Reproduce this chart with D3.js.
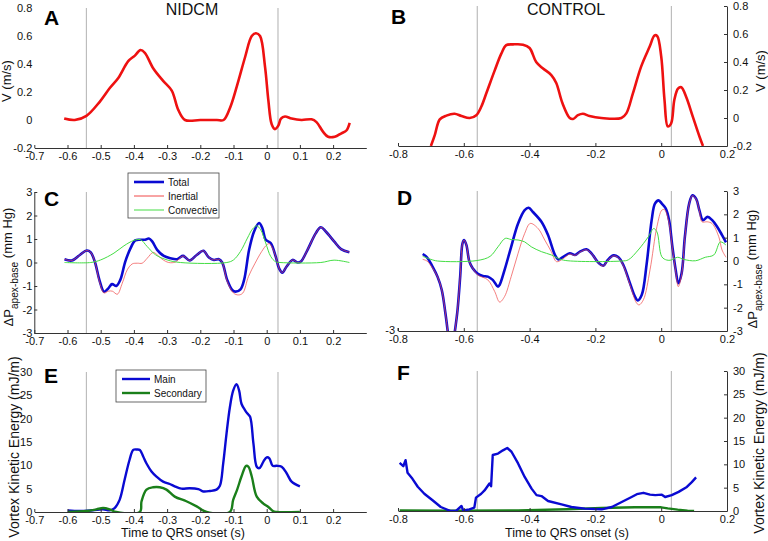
<!DOCTYPE html>
<html>
<head>
<meta charset="utf-8">
<script src="https://cdn.jsdelivr.net/npm/d3@7"></script>
<style>
  body { margin: 0; background: #fff; }
  svg { display: block; font-family: "Liberation Sans", Arial, sans-serif; }
</style>
</head>
<body>
<svg id="fig" width="768" height="541"></svg>
<script>
// ---- data ----
// A: NIDCM velocity
const aTime = [-0.61,-0.578,-0.543,-0.503,-0.472,-0.447,-0.417,-0.397,-0.38,-0.367,-0.342,-0.312,-0.286,-0.266,-0.246,-0.2,-0.15,-0.13,-0.11,-0.09,-0.065,-0.045,-0.032,-0.02,-0.005,0.005,0.015,0.025,0.035,0.043,0.055,0.075,0.105,0.135,0.15,0.17,0.185,0.205,0.225,0.24,0.25];
const aVel = [0.01,0.0,0.03,0.13,0.23,0.30,0.42,0.46,0.50,0.48,0.37,0.28,0.21,0.07,0.0,0.0,0.0,0.0,0.09,0.24,0.45,0.60,0.62,0.60,0.38,0.14,-0.03,-0.065,-0.04,0.01,0.025,0.01,0.0,0.005,-0.015,-0.085,-0.12,-0.12,-0.095,-0.075,-0.02];

// B: CONTROL velocity
const bTime = [-0.7,-0.688,-0.673,-0.653,-0.628,-0.607,-0.582,-0.562,-0.547,-0.531,-0.506,-0.486,-0.471,-0.45,-0.42,-0.4,-0.38,-0.36,-0.334,-0.319,-0.3,-0.278,-0.268,-0.253,-0.238,-0.218,-0.182,-0.121,-0.106,-0.086,-0.061,-0.035,-0.02,-0.012,0.0,0.01,0.02,0.03,0.04,0.051,0.061,0.076,0.096,0.116,0.127];
const bVel = [-0.2,-0.12,-0.01,0.017,0.03,0.014,0.0,0.02,0.08,0.18,0.34,0.46,0.52,0.526,0.524,0.50,0.40,0.355,0.307,0.25,0.105,0.0,-0.007,0.02,0.03,0.014,0.0,0.0,0.033,0.176,0.367,0.51,0.59,0.585,0.44,0.13,-0.06,-0.04,0.13,0.21,0.22,0.15,0.01,-0.13,-0.2];

// C: NIDCM pressure difference
const cTotalTime = [-0.609,-0.587,-0.562,-0.542,-0.53,-0.517,-0.504,-0.49,-0.477,-0.466,-0.453,-0.441,-0.426,-0.41,-0.396,-0.38,-0.366,-0.355,-0.345,-0.33,-0.31,-0.29,-0.27,-0.252,-0.232,-0.21,-0.191,-0.174,-0.159,-0.144,-0.134,-0.119,-0.104,-0.094,-0.079,-0.068,-0.053,-0.038,-0.023,-0.013,-0.003,0.012,0.027,0.037,0.047,0.06,0.078,0.093,0.103,0.123,0.148,0.163,0.178,0.203,0.224,0.249];
const cTotal = [0.14,0.085,0.33,0.51,0.43,0.0,-0.74,-1.24,-1.1,-0.92,-1.0,-0.74,0.04,0.61,0.94,0.97,0.97,1.02,0.9,0.54,0.28,0.18,0.14,0.28,0.085,0.33,0.5,0.21,0.11,0.14,0.0,-0.74,-1.17,-1.24,-1.14,-0.74,0.54,1.32,1.68,1.46,0.97,0.83,0.26,-0.24,-0.43,-0.17,0.11,0.0,0.04,0.54,1.25,1.5,1.32,0.9,0.57,0.44];
const cInertTime = [-0.609,-0.587,-0.562,-0.542,-0.53,-0.517,-0.504,-0.49,-0.477,-0.465,-0.45,-0.435,-0.42,-0.405,-0.39,-0.375,-0.36,-0.342,-0.33,-0.315,-0.295,-0.275,-0.252,-0.232,-0.21,-0.191,-0.174,-0.159,-0.144,-0.134,-0.119,-0.1,-0.085,-0.072,-0.055,-0.035,-0.015,0.0,0.008,0.02,0.03,0.037,0.047,0.06,0.078,0.093,0.103,0.123,0.148,0.163,0.178,0.203,0.224,0.249];
const cInert = [0.14,0.085,0.33,0.51,0.43,0.0,-0.8,-1.3,-1.22,-1.22,-1.35,-0.88,-0.31,-0.06,-0.03,-0.03,0.18,0.43,0.33,0.14,0.0,0.02,0.28,0.085,0.33,0.5,0.21,0.11,0.14,0.0,-0.8,-1.3,-1.38,-1.3,-0.6,-0.03,0.47,0.75,0.8,0.54,0.11,-0.24,-0.43,-0.17,0.11,0.0,0.04,0.54,1.25,1.5,1.32,0.9,0.57,0.44];
const cConvTime = [-0.609,-0.53,-0.5,-0.46,-0.43,-0.4,-0.38,-0.36,-0.335,-0.3,-0.26,-0.12,-0.1,-0.079,-0.058,-0.043,-0.03,-0.018,-0.003,0.012,0.027,0.04,0.163,0.203,0.249];
const cConv = [0,0,0.11,0.4,0.71,0.94,0.97,0.68,0.33,0.11,0,0,0.11,0.47,1.04,1.42,1.56,1.39,0.83,0.26,0.03,0,0,0.1,0];

// D: CONTROL pressure difference
const dTotalTime = [-0.725,-0.712,-0.695,-0.68,-0.667,-0.656,-0.649,-0.644,-0.633,-0.627,-0.619,-0.611,-0.604,-0.599,-0.592,-0.583,-0.573,-0.557,-0.542,-0.527,-0.512,-0.496,-0.491,-0.476,-0.456,-0.435,-0.415,-0.403,-0.39,-0.364,-0.344,-0.323,-0.313,-0.298,-0.278,-0.262,-0.247,-0.227,-0.212,-0.191,-0.176,-0.163,-0.145,-0.13,-0.115,-0.095,-0.08,-0.071,-0.059,-0.044,-0.029,-0.019,-0.008,0.002,0.014,0.024,0.034,0.044,0.052,0.062,0.072,0.085,0.095,0.106,0.116,0.127,0.141,0.155,0.17,0.185,0.197];
const dTotal = [0.3,0.16,-0.24,-0.67,-1.24,-2.23,-3.0,-3.6,-3.6,-3.0,-2.09,-0.67,0.75,0.9,0.68,-0.03,-0.31,-0.55,-0.64,-0.67,-0.81,-1.1,-1.02,-0.38,0.61,1.61,2.18,2.28,2.1,1.68,1.11,0.26,0.07,0.18,0.33,0.26,0.4,0.5,0.33,-0.07,-0.2,0.04,0.24,0.16,-0.17,-0.95,-1.52,-1.69,-1.45,-0.1,1.75,2.46,2.6,2.46,2.25,1.75,0.61,-0.38,-0.95,-0.53,1.04,2.46,2.82,2.67,2.18,1.75,1.89,1.75,1.47,1.11,0.8];
const dInertTime = [-0.725,-0.712,-0.695,-0.68,-0.667,-0.656,-0.649,-0.644,-0.633,-0.627,-0.619,-0.611,-0.604,-0.599,-0.592,-0.583,-0.573,-0.557,-0.527,-0.506,-0.491,-0.476,-0.456,-0.435,-0.415,-0.398,-0.374,-0.354,-0.334,-0.318,-0.298,-0.278,-0.262,-0.247,-0.227,-0.212,-0.191,-0.176,-0.163,-0.145,-0.13,-0.115,-0.095,-0.075,-0.067,-0.054,-0.034,-0.013,0.002,0.01,0.022,0.034,0.044,0.052,0.062,0.072,0.085,0.095,0.106,0.116,0.124,0.14,0.155,0.175,0.185,0.197];
const dInert = [0.07,0.0,-0.3,-0.67,-1.24,-2.23,-3.0,-3.6,-3.6,-3.0,-2.09,-0.67,0.75,0.9,0.68,-0.03,-0.31,-0.6,-0.81,-1.31,-1.76,-1.52,-0.67,0.33,1.18,1.61,1.39,0.9,0.4,-0.03,0.1,0.3,0.24,0.38,0.48,0.32,-0.08,-0.22,0.02,0.22,0.14,-0.2,-1.02,-1.8,-1.88,-1.66,-0.38,1.47,2.18,2.2,1.75,0.55,-0.45,-1.1,-0.6,1.0,2.44,2.8,2.65,2.15,1.68,1.68,1.6,1.04,0.47,0.16];
const dConvTime = [-0.725,-0.7,-0.68,-0.56,-0.52,-0.496,-0.474,-0.456,-0.435,-0.415,-0.395,-0.364,-0.334,-0.313,-0.29,-0.12,-0.1,-0.07,-0.039,-0.023,-0.013,0.002,0.017,0.03,0.05,0.068,0.104,0.134,0.16,0.18,0.197];
const dConv = [0.2,0.07,0,0.02,0.2,0.61,0.97,0.92,0.9,0.82,0.61,0.4,0.26,0.11,0.02,0,0.05,0.47,1.04,1.39,1.25,0.18,0.04,0.04,0.16,0.07,0.01,0.16,0.26,0.82,0.68];

// E: NIDCM vortex kinetic energy
const eMainTime = [-0.599,-0.564,-0.524,-0.493,-0.473,-0.458,-0.443,-0.428,-0.413,-0.402,-0.392,-0.382,-0.372,-0.362,-0.347,-0.332,-0.312,-0.292,-0.277,-0.257,-0.232,-0.206,-0.191,-0.171,-0.151,-0.141,-0.131,-0.121,-0.111,-0.101,-0.091,-0.083,-0.076,-0.065,-0.058,-0.05,-0.04,-0.03,-0.022,-0.01,0.0,0.008,0.018,0.03,0.045,0.06,0.075,0.1];
const eMain = [0.36,0.2,0.36,0.57,0.36,0.85,2.6,6.9,11.2,13.3,13.4,13.3,11.9,10.4,8.7,7.6,6.5,6.0,5.5,5.0,5.1,4.9,4.4,4.5,4.8,5.6,10.4,16.8,22.4,26.0,27.4,26.0,23.2,21.8,21.1,20.4,14.7,9.7,9.4,10.8,11.7,11.5,9.9,9.9,9.7,8.3,6.5,5.5];
const eSecTime = [-0.599,-0.543,-0.513,-0.493,-0.473,-0.453,-0.382,-0.377,-0.362,-0.342,-0.322,-0.302,-0.277,-0.242,-0.211,-0.181,-0.111,-0.101,-0.089,-0.076,-0.062,-0.055,-0.045,-0.03,-0.01,0.005,0.02,0.03,0.1];
const eSec = [0,0.2,0.57,0.85,0.57,0,0,2.3,4.8,5.3,5.3,4.8,3.3,2.3,1.2,0,0,2.6,4.8,7.6,9.9,9.7,7.6,3.3,1.8,1.07,0.14,0,0];

// F: CONTROL vortex kinetic energy
const fMainTime = [-0.795,-0.784,-0.777,-0.771,-0.756,-0.74,-0.72,-0.695,-0.67,-0.64,-0.624,-0.607,-0.602,-0.583,-0.568,-0.563,-0.547,-0.537,-0.522,-0.517,-0.512,-0.496,-0.481,-0.468,-0.455,-0.435,-0.415,-0.394,-0.379,-0.364,-0.344,-0.303,-0.273,-0.232,-0.181,-0.15,-0.12,-0.09,-0.074,-0.054,-0.034,-0.018,0.002,0.012,0.032,0.053,0.078,0.093,0.106];
const fMain = [10.3,9.6,10.9,8.2,6.9,5.2,3.7,2.3,0.86,0,0,1.07,0.14,0.36,0.72,2.86,3.7,4.4,5.9,5.3,12.0,12.3,13.0,13.5,12.7,10.2,7.3,4.8,3.4,3.2,2.15,1.43,0.86,0.5,0.36,0.86,1.93,3.0,3.6,3.9,3.5,3.4,3.5,3.0,3.4,4.1,5.15,6.2,7.2];
const fSecTime = [-0.795,-0.64,-0.435,-0.285,-0.181,-0.08,0.0,0.02,0.05,0.08,0.1];
const fSec = [0.1,0.05,0.14,0.36,0.64,0.79,0.79,0.57,0.29,0.07,0];

// event markers (vertical gray lines)
const nidcmMarks = [-0.543, 0.034];
const controlMarks = [-0.559, 0.031];

// ticks
const xTicksLeft = [-0.7,-0.6,-0.5,-0.4,-0.3,-0.2,-0.1,0,0.1,0.2];
const xTicksRight = [-0.8,-0.6,-0.4,-0.2,0,0.2];
const vTicks = [-0.2,0,0.2,0.4,0.6,0.8];
const pTicks = [-3,-2,-1,0,1,2,3];
const eTicks = [0,5,10,15,20,25,30];

// ---- drawing ----
const svg = d3.select("#fig");
const fmt = (d) => (d === 0 ? "0" : (Math.abs(d) < 1 && d % 1 !== 0 ? d.toFixed(1) : String(d)));

const RED = "#ee1111";
const BLUE = "#0a0ad2";
const THIN_RED = "#f04848";
const THIN_GREEN = "#44dd44";
const DARK_GREEN = "#1a7f1a";
const GRAY = "#bdbdbd";

let clipCount = 0;

function panel(cfg) {
  const g = svg.append("g");
  const x = d3.scaleLinear().domain(cfg.xDomain).range(cfg.xRange);
  const y = d3.scaleLinear().domain(cfg.yDomain).range(cfg.yRange);
  const id = "clip" + clipCount++;

  g.append("clipPath").attr("id", id)
    .append("rect")
    .attr("x", cfg.xRange[0]).attr("y", cfg.yRange[1])
    .attr("width", cfg.xRange[1] - cfg.xRange[0])
    .attr("height", cfg.yRange[0] - cfg.yRange[1]);

  g.selectAll("line.mark").data(cfg.marks).enter().append("line")
    .attr("class", "mark")
    .attr("x1", (d) => x(d)).attr("x2", (d) => x(d))
    .attr("y1", cfg.yRange[1]).attr("y2", cfg.yRange[0])
    .attr("stroke", GRAY).attr("stroke-width", 1.2);

  const plot = g.append("g").attr("clip-path", `url(#${id})`);
  cfg.series.forEach((s) => {
    const pts = s.t.map((t, i) => [t, s.v[i]]);
    const line = d3.line()
      .x((d) => x(d[0])).y((d) => y(d[1]))
      .curve(s.linear ? d3.curveLinear : d3.curveCatmullRom.alpha(0.5));
    plot.append("path")
      .attr("d", line(pts))
      .attr("fill", "none")
      .attr("stroke", s.color)
      .attr("stroke-width", s.width)
      .attr("stroke-opacity", s.opacity || 1)
      .attr("stroke-linejoin", "round");
  });

  const xAxis = g.append("g")
    .attr("transform", `translate(0,${cfg.yRange[0]})`)
    .call(d3.axisBottom(x).tickValues(cfg.xTicks).tickFormat(fmt)
      .tickSizeInner(-3).tickSizeOuter(0).tickPadding(4));

  let yAxis;
  if (cfg.side === "left") {
    yAxis = g.append("g")
      .attr("transform", `translate(${cfg.xRange[0]},0)`)
      .call(d3.axisLeft(y).tickValues(cfg.yTicks).tickFormat(fmt)
        .tickSizeInner(-3).tickSizeOuter(0).tickPadding(2));
    if (!cfg.leftLine) {
      yAxis.select(".domain").remove();
      yAxis.selectAll(".tick line").remove();
    }
  } else {
    yAxis = g.append("g")
      .attr("transform", `translate(${cfg.xRange[1]},0)`)
      .call(d3.axisRight(y).tickValues(cfg.yTicks).tickFormat(fmt)
        .tickSizeInner(-3).tickSizeOuter(0).tickPadding(6));
  }
  [xAxis, yAxis].forEach((a) => {
    a.selectAll("text").attr("font-size", 11).attr("fill", "#111")
      .attr("font-family", "Liberation Sans, Arial, sans-serif");
    a.selectAll("path, line").attr("stroke", "#333");
  });

  g.append("text")
    .attr("x", cfg.letterPos[0]).attr("y", cfg.letterPos[1])
    .attr("font-size", 21).attr("font-weight", "bold").attr("fill", "#000")
    .text(cfg.letter);

  return { g, x, y };
}

function yLabel(g, px, py, size, main, sub, tail) {
  const t = g.append("text")
    .attr("transform", `translate(${px},${py}) rotate(-90)`)
    .attr("text-anchor", "middle")
    .attr("font-size", size).attr("fill", "#111");
  t.append("tspan").text(main);
  if (sub) {
    t.append("tspan").attr("font-size", size * 0.78).attr("dy", "0.45em").text(sub);
    t.append("tspan").attr("dy", "-0.45em").text(tail);
  }
}

function legend(g, x0, y0, w, h, items) {
  g.append("rect").attr("x", x0).attr("y", y0).attr("width", w).attr("height", h)
    .attr("fill", "#fff").attr("stroke", "#444").attr("stroke-width", 0.8);
  items.forEach((it) => {
    const yy = y0 + it.dy;
    g.append("line").attr("x1", x0 + 6).attr("x2", x0 + it.len)
      .attr("y1", yy).attr("y2", yy)
      .attr("stroke", it.color).attr("stroke-width", it.width);
    g.append("text").attr("x", x0 + it.len + 4).attr("y", yy + 3.5)
      .attr("font-size", 10).attr("fill", "#111").text(it.label);
  });
}

const leftXRange = [34.3, 366.3];
const rightXRange = [398, 727];

// A
const A = panel({
  xDomain: [-0.7, 0.3], xRange: leftXRange, yDomain: [-0.2, 0.8], yRange: [148, 8],
  side: "left", xTicks: xTicksLeft, yTicks: vTicks, marks: nidcmMarks,
  letter: "A", letterPos: [44, 25],
  series: [{ t: aTime, v: aVel, color: RED, width: 2.6 }]
});
yLabel(A.g, 11, 81, 13, "V (m/s)");
A.g.append("text").attr("x", 192).attr("y", 15).attr("text-anchor", "middle")
  .attr("font-size", 16).attr("fill", "#111").text("NIDCM");

// B
const B = panel({
  xDomain: [-0.8, 0.2], xRange: rightXRange, yDomain: [-0.2, 0.8], yRange: [146, 6],
  side: "right", xTicks: xTicksRight, yTicks: vTicks, marks: controlMarks,
  letter: "B", letterPos: [391, 24],
  series: [{ t: bTime, v: bVel, color: RED, width: 2.6 }]
});
yLabel(B.g, 765, 71, 13, "V (m/s)");
B.g.append("text").attr("x", 566).attr("y", 15).attr("text-anchor", "middle")
  .attr("font-size", 16).attr("fill", "#111").text("CONTROL");

// C
const C = panel({
  xDomain: [-0.7, 0.3], xRange: leftXRange, yDomain: [-3, 3], yRange: [333, 192],
  side: "left", leftLine: true, xTicks: xTicksLeft, yTicks: pTicks, marks: nidcmMarks,
  letter: "C", letterPos: [44, 206],
  series: [
    { t: cTotalTime, v: cTotal, color: BLUE, width: 2.6 },
    { t: cInertTime, v: cInert, color: THIN_RED, width: 1, opacity: 0.7 },
    { t: cConvTime, v: cConv, color: THIN_GREEN, width: 1 }
  ]
});
yLabel(C.g, 13, 267, 13, "\u0394P", "apex-base", " (mm Hg)");
legend(C.g, 128, 173, 91, 45, [
  { label: "Total", color: BLUE, width: 2.6, dy: 9, len: 36 },
  { label: "Inertial", color: THIN_RED, width: 1, dy: 23, len: 36 },
  { label: "Convective", color: THIN_GREEN, width: 1, dy: 37, len: 36 }
]);

// D
const D = panel({
  xDomain: [-0.8, 0.2], xRange: rightXRange, yDomain: [-3, 3], yRange: [331, 191],
  side: "right", xTicks: xTicksRight, yTicks: pTicks, marks: controlMarks,
  letter: "D", letterPos: [397, 205],
  series: [
    { t: dTotalTime, v: dTotal, color: BLUE, width: 2.6 },
    { t: dInertTime, v: dInert, color: THIN_RED, width: 1, opacity: 0.7 },
    { t: dConvTime, v: dConv, color: THIN_GREEN, width: 1 }
  ]
});
yLabel(D.g, 757, 269, 13, "\u0394P", "apex-base", " (mm Hg)");
D.g.append("text").attr("x", 395).attr("y", 334).attr("text-anchor", "end")
  .attr("font-size", 11).attr("fill", "#111").text("-3");
D.g.append("line").attr("x1", 398).attr("x2", 398).attr("y1", 331).attr("y2", 328)
  .attr("stroke", "#333");

// E
const E = panel({
  xDomain: [-0.7, 0.3], xRange: leftXRange, yDomain: [0, 30], yRange: [512, 372],
  side: "left", xTicks: xTicksLeft, yTicks: eTicks, marks: nidcmMarks,
  letter: "E", letterPos: [44, 383],
  series: [
    { t: eMainTime, v: eMain, color: BLUE, width: 2.4 },
    { t: eSecTime, v: eSec, color: DARK_GREEN, width: 2.4 }
  ]
});
yLabel(E.g, 19, 447, 14, "Vortex Kinetic Energy (mJ/m)");
E.g.append("text").attr("x", 183).attr("y", 537).attr("text-anchor", "middle")
  .attr("font-size", 12.5).attr("fill", "#111").text("Time to QRS onset (s)");
legend(E.g, 116, 370, 90, 32, [
  { label: "Main", color: BLUE, width: 2.4, dy: 9, len: 34 },
  { label: "Secondary", color: DARK_GREEN, width: 2.4, dy: 23, len: 34 }
]);

// F
const F = panel({
  xDomain: [-0.8, 0.2], xRange: rightXRange, yDomain: [0, 30], yRange: [511, 371],
  side: "right", xTicks: xTicksRight, yTicks: eTicks, marks: controlMarks,
  letter: "F", letterPos: [397, 380],
  series: [
    { t: fSecTime, v: fSec, color: DARK_GREEN, width: 2.4, linear: true },
    { t: fMainTime, v: fMain, color: BLUE, width: 2.4, linear: true }
  ]
});
yLabel(F.g, 764, 443, 14, "Vortex Kinetic Energy (mJ/m)");
F.g.append("text").attr("x", 567).attr("y", 537).attr("text-anchor", "middle")
  .attr("font-size", 12.5).attr("fill", "#111").text("Time to QRS onset (s)");
</script>
</body>
</html>
